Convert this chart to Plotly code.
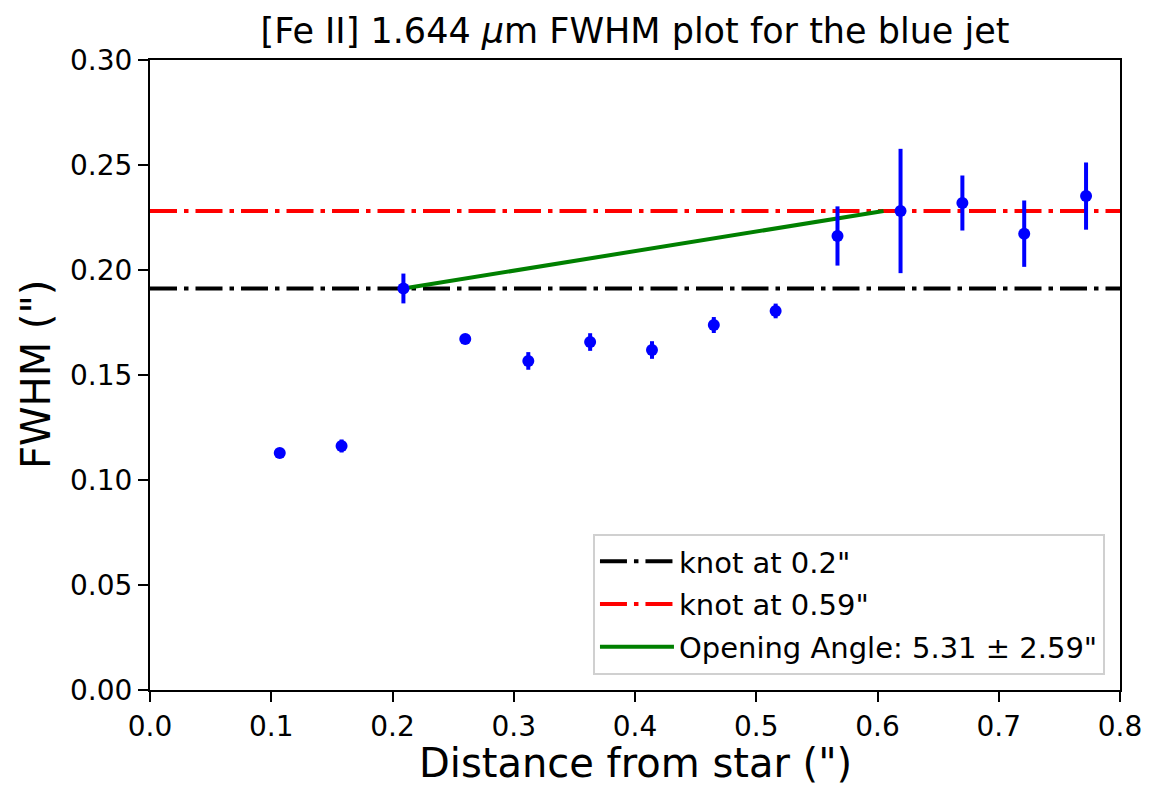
import plotly.graph_objects as go

# Data
distance = [0.107, 0.158, 0.209, 0.260, 0.312, 0.363, 0.414, 0.465, 0.516, 0.567, 0.619, 0.670, 0.721, 0.772]
fwhm = [0.1129, 0.1162, 0.1912, 0.1671, 0.1567, 0.1657, 0.1619, 0.1738, 0.1805, 0.2162, 0.2281, 0.2319, 0.2173, 0.2352]
fwhm_err = [0.0008, 0.0031, 0.0071, 0.0008, 0.0042, 0.0042, 0.0042, 0.0038, 0.0035, 0.0141, 0.0296, 0.0131, 0.0158, 0.0160]

knot1_fwhm = 0.1912
knot2_fwhm = 0.2281
opening_x = [0.209, 0.605]
opening_y = [0.1912, 0.2281]
x_range = [0.0, 0.8]
y_range = [0.0, 0.30]
x_ticks = [0.0, 0.1, 0.2, 0.3, 0.4, 0.5, 0.6, 0.7, 0.8]
y_ticks = [0.0, 0.05, 0.10, 0.15, 0.20, 0.25, 0.30]

FONT = "DejaVu Sans"
DASHDOT = "27px,7px,4.5px,7px"

fig = go.Figure()

fig.add_trace(go.Scatter(
    x=x_range, y=[knot1_fwhm, knot1_fwhm], mode="lines",
    line=dict(color="black", width=4, dash=DASHDOT),
    name='knot at 0.2"', legendgroup="a"))
fig.add_trace(go.Scatter(
    x=x_range, y=[knot2_fwhm, knot2_fwhm], mode="lines",
    line=dict(color="red", width=4, dash=DASHDOT),
    name='knot at 0.59"', legendgroup="b"))
fig.add_trace(go.Scatter(
    x=opening_x, y=opening_y, mode="lines",
    line=dict(color="green", width=4),
    name='Opening Angle: 5.31 ± 2.59"', legendgroup="c"))
fig.add_trace(go.Scatter(
    x=distance, y=fwhm, mode="markers",
    marker=dict(color="blue", size=12),
    error_y=dict(type="data", array=fwhm_err, visible=True, color="blue", thickness=4, width=0),
    showlegend=False))

axis_common = dict(
    showline=True, linecolor="black", linewidth=2, mirror=True,
    ticks="outside", ticklen=10, tickwidth=2, tickcolor="black",
    showgrid=False, zeroline=False, automargin=False,
    tickfont=dict(family=FONT, size=28, color="black"),
)

fig.update_layout(
    width=1155, height=789,
    margin=dict(l=150, r=35, t=60, b=99),
    plot_bgcolor="white", paper_bgcolor="white",
    title=dict(text='[Fe II] 1.644 <i>μ</i>m FWHM plot for the blue jet',
               x=(150 + 1120) / 2 / 1155, xanchor="center", y=1 - 31 / 789, yanchor="middle",
               font=dict(family=FONT, size=35, color="black")),
    xaxis=dict(range=x_range, tickmode="array", tickvals=x_ticks,
               ticktext=[f"{v:.1f}" for v in x_ticks], **axis_common),
    yaxis=dict(range=y_range, tickmode="array", tickvals=y_ticks,
               ticktext=[f"{v:.2f}" for v in y_ticks], **axis_common),
    legend=dict(x=0.9845, xanchor="right", y=0.024, yanchor="bottom",
                bgcolor="rgba(255,255,255,0.8)", bordercolor="#d0d0d0", borderwidth=2,
                font=dict(family=FONT, size=29, color="black"),
                itemwidth=74, tracegroupgap=2),
    showlegend=True,
    annotations=[
        dict(text='Distance from star (")', xref="paper", yref="paper",
             x=0.5, y=-(763 - 690) / 630, xanchor="center", yanchor="middle",
             showarrow=False, font=dict(family=FONT, size=40, color="black")),
        dict(text='FWHM (")', xref="paper", yref="paper",
             x=-(150 - 36) / 970, y=0.5, xanchor="center", yanchor="middle", textangle=-90,
             showarrow=False, font=dict(family=FONT, size=40, color="black")),
    ],
)

fig.write_html("out.html")
